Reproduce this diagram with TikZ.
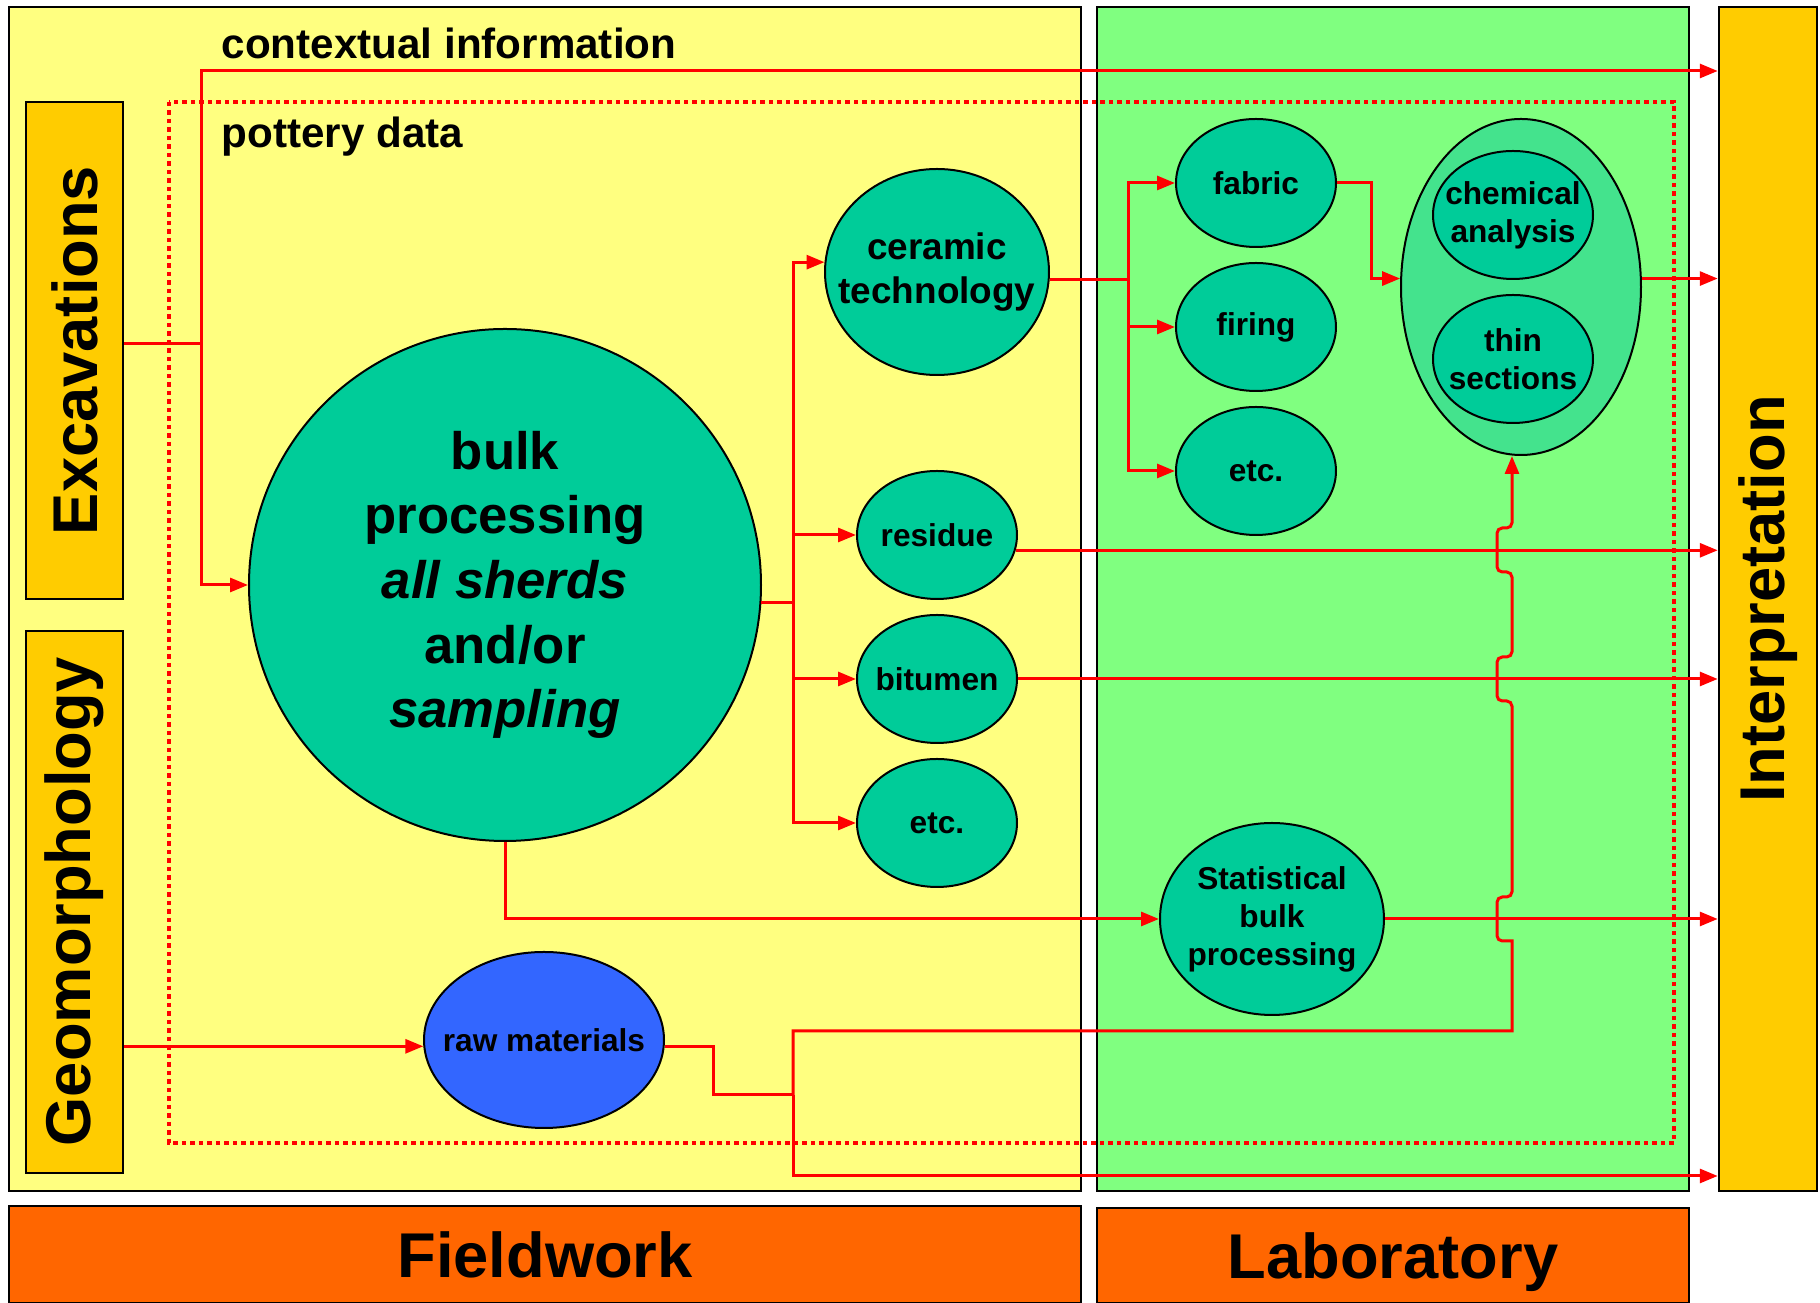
\documentclass[tikz,border=0pt]{standalone}
\usepackage{fontspec}
\setmainfont{Liberation Sans}
\usetikzlibrary{positioning,calc,arrows.meta,shapes.geometric}
\definecolor{fieldyellow}{HTML}{FFFF80}
\definecolor{labgreen}{HTML}{80FF80}
\definecolor{sidegold}{HTML}{FFCC00}
\definecolor{barorange}{HTML}{FF6600}
\definecolor{potteal}{HTML}{00CC99}
\definecolor{outergreen}{HTML}{44E38D}
\definecolor{rawblue}{HTML}{3366FF}
\tikzset{
	panel/.style={draw, line width=0.25mm, inner sep=0pt},
	sidebox/.style={panel, fill=sidegold, font=\bfseries\fontsize{18}{21}\selectfont},
	bar/.style={panel, fill=barorange, text depth=0pt, font=\bfseries\fontsize{18}{21}\selectfont},
	blob/.style={ellipse, draw, line width=0.2mm, fill=potteal, inner sep=-5mm, align=center,
		minimum width=1.6cm, minimum height=1.28cm, font=\bfseries\fontsize{9}{10.8}\selectfont},
	wire/.style={draw=red, line width=0.3mm},
	link/.style={wire, -{Triangle[length=1.8mm,width=1.4mm]}},
	heading/.style={inner sep=0pt, font=\bfseries\fontsize{12}{14}\selectfont}
}

\begin{document}
\begin{tikzpicture}
	\useasboundingbox (0,0) rectangle (18.2,-13.03);

	% panels
	\node[panel, fill=fieldyellow, minimum width=10.72cm, minimum height=11.84cm] (field) at (5.45,-5.99) {};
	\node[panel, fill=labgreen,    minimum width=5.92cm,  minimum height=11.84cm] (lab)   at (13.93,-5.99) {};
	\node[sidebox, minimum width=0.98cm, minimum height=11.84cm] (interp) at (17.68,-5.99) {\rotatebox{90}{Interpretation}};
	\node[bar, minimum width=10.72cm, minimum height=0.97cm] (fieldbar) at (5.45,-12.545) {Fieldwork};
	\node[bar, minimum width=5.92cm,  minimum height=0.95cm] (labbar)   at (13.93,-12.555) {Laboratory};
	\node[sidebox, minimum width=0.97cm, minimum height=4.97cm] (excav) at (0.745,-3.505) {\rotatebox{90}{Excavations}};
	\node[sidebox, minimum width=0.97cm, minimum height=5.42cm] (geo)   at (0.745,-9.02)  {\rotatebox{90}{Geomorphology}};

	\draw[red, line width=0.45mm, dash pattern=on 0.45mm off 0.4mm] (1.69,-1.02) rectangle (16.74,-11.43);
	\node[heading]            (ctxtext) at (4.49,-0.43) {contextual information};
	\node[heading, anchor=west] (pottext) at (2.21,-1.37) {pottery data};

	% pottery nodes
	\node[blob, circle, minimum size=5.12cm, font=\bfseries\fontsize{15}{18.4}\selectfont] (bulk) at (5.05,-5.85)
		{bulk\\processing\\\textit{all sherds}\\and/or\\\textit{sampling}};
	\node[blob, minimum width=2.24cm, minimum height=2.06cm, font=\bfseries\fontsize{10.5}{12.6}\selectfont] (ceram) at (9.37,-2.72) {ceramic\\technology};
	\node[blob] (residue) at (9.37,-5.35) {residue};
	\node[blob] (bitumen) at (9.37,-6.79) {bitumen};
	\node[blob] (etca)    at (9.37,-8.23) {etc.};
	\node[blob] (fabric)  at (12.56,-1.83) {fabric};
	\node[blob] (firing)  at (12.56,-3.27) {firing};
	\node[blob] (etcb)    at (12.56,-4.71) {etc.};
	\node[blob, fill=outergreen, minimum width=2.4cm, minimum height=3.36cm] (outer) at (15.21,-2.87) {};
	\node[blob] (chem)    at (15.13,-2.15) {chemical\\analysis};
	\node[blob] (thin)    at (15.13,-3.59) {thin\\sections};
	\node[blob, minimum width=2.24cm, minimum height=1.92cm] (stat) at (12.72,-9.19) {Statistical\\bulk\\processing};
	\node[blob, fill=rawblue, minimum width=2.4cm, minimum height=1.76cm] (raw) at (5.44,-10.40) {raw materials};

	\coordinate (ctx)     at (2.01,-0.71);
	\coordinate (br1)     at (7.93,-6.01);
	\coordinate (br2)     at (11.28,-2.80);
	\coordinate (rawstep) at (7.13,-10.95);
	\coordinate (jn)      at (7.93,-10.95);
	\coordinate (up)      at (15.12,-10.31);
	\coordinate (low)     at (interp.west |- 0,-11.76);

	% connectors
	\draw[link] (ctx |- 0,-3.44) |- (interp.west |- ctx);
	\draw[link] (excav.east |- 0,-3.44) -| (ctx |- bulk.west) -- (bulk.west);
	\draw[wire] (bulk.-4) -- (bulk.-4 -| br1);
	\draw[link] (br1) |- (ceram.175);
	\draw[link] (br1) |- (residue.west);
	\draw[link] (br1) |- (bitumen.west);
	\draw[link] (br1) |- (etca.west);
	\draw[wire] (ceram.-4) -- (ceram.-4 -| br2);
	\draw[link] (br2) |- (fabric.west);
	\draw[link] (br2) |- (firing.west);
	\draw[link] (br2) |- (etcb.west);
	\draw[link] (fabric.east) -- ++(0.34,0) |- (outer.176);
	\draw[link] (outer.4) -- (outer.4 -| interp.west);
	\draw[link] (residue.-11) -- (residue.-11 -| interp.west);
	\draw[link] (bitumen.east) -- (bitumen.east -| interp.west);
	\draw[link] (bulk.south) |- (stat.west);
	\draw[link] (stat.east) -- (stat.east -| interp.west);
	\draw[link] (geo.east |- raw.183) -- (raw.183);
	\draw[wire] (raw.-3) -| (rawstep) -- (jn);
	\draw[link] (jn) |- (up) -- (15.12,-9.41) [rounded corners=1.5pt] -- (14.97,-9.41) -- (14.97,-8.97) -- (15.12,-8.97)
		-- (15.12,-7.01) -- (14.97,-7.01) -- (14.97,-6.57) -- (15.12,-6.57)
		-- (15.12,-5.72) -- (14.97,-5.72) -- (14.97,-5.28) -- (15.12,-5.28) -- (up |- outer.south);
	\draw[link] (jn) |- (low);
\end{tikzpicture}
\end{document}
